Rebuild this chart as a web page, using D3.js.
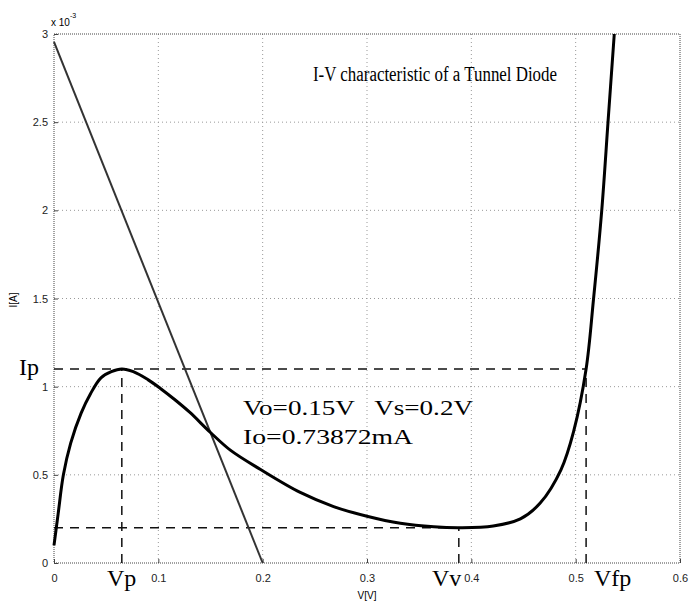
<!DOCTYPE html>
<html>
<head>
<meta charset="utf-8">
<script src="https://cdn.jsdelivr.net/npm/d3@7"></script>
<style>
  body { margin: 0; background: white; }
  svg { display: block; }
</style>
</head>
<body>
<div id="chart"></div>
<script>
// chart data (current in mA, i.e. x 10^-3 A)
const curveV = [0, 0.004, 0.009, 0.016, 0.026, 0.035, 0.045, 0.055, 0.065, 0.076, 0.09, 0.102, 0.115, 0.13, 0.15, 0.169, 0.198, 0.236, 0.268, 0.30, 0.332, 0.364, 0.39, 0.421, 0.447, 0.466, 0.486, 0.498, 0.51, 0.517, 0.525, 0.531, 0.537];
const curveI = [0.1, 0.28, 0.5, 0.68, 0.85, 0.96, 1.05, 1.085, 1.1, 1.085, 1.04, 0.99, 0.93, 0.855, 0.74, 0.64, 0.53, 0.40, 0.32, 0.265, 0.225, 0.205, 0.2, 0.21, 0.25, 0.34, 0.53, 0.745, 1.1, 1.49, 2.0, 2.5, 3.0];

const loadV = [0, 0.2];
const loadI = [2.955, 0];

const Vp = 0.065, Ip = 1.1, Vv = 0.388, Iv = 0.2, Vfp = 0.51;

const xTicks = [0, 0.1, 0.2, 0.3, 0.4, 0.5, 0.6];
const yTicks = [0, 0.5, 1, 1.5, 2, 2.5, 3];

const width = 690, height = 603;
const mLeft = 54, mRight = 680, mTop = 34, mBottom = 563;

const svg = d3.select("#chart").append("svg").attr("width", width).attr("height", height);

const x = d3.scaleLinear().domain([0, 0.6]).range([mLeft, mRight]);
const y = d3.scaleLinear().domain([0, 3]).range([mBottom, mTop]);

// grid
svg.append("g").selectAll("line").data(xTicks.slice(1, -1)).enter().append("line")
  .attr("x1", d => x(d)).attr("x2", d => x(d)).attr("y1", mTop).attr("y2", mBottom)
  .attr("stroke", "#999").attr("stroke-width", 1).attr("stroke-dasharray", "1,3");
svg.append("g").selectAll("line").data(yTicks.slice(1, -1)).enter().append("line")
  .attr("x1", mLeft).attr("x2", mRight).attr("y1", d => y(d)).attr("y2", d => y(d))
  .attr("stroke", "#999").attr("stroke-width", 1).attr("stroke-dasharray", "1,3");

// box
svg.append("rect").attr("x", mLeft).attr("y", mTop).attr("width", mRight - mLeft).attr("height", mBottom - mTop)
  .attr("fill", "none").attr("stroke", "#444").attr("stroke-width", 1).attr("stroke-dasharray", "1,1");

// axes (ticks inside, like matlab)
const xAxis = svg.append("g").attr("transform", `translate(0,${mBottom})`)
  .call(d3.axisBottom(x).tickValues(xTicks).tickSize(-4).tickPadding(11).tickFormat(d => d === 0 ? "0" : d3.format(".1f")(d)));
const yAxis = svg.append("g").attr("transform", `translate(${mLeft},0)`)
  .call(d3.axisLeft(y).tickValues(yTicks).tickSize(-4).tickPadding(6).tickFormat(d => d));
[xAxis, yAxis].forEach(a => {
  a.select(".domain").remove();
  a.selectAll("text").attr("font-family", "Liberation Sans, Arial, sans-serif").attr("font-size", 11).attr("fill", "#222");
  a.selectAll("line").attr("stroke", "#444");
});

// axis titles
svg.append("text").attr("x", x(0.3)).attr("y", 599).attr("text-anchor", "middle")
  .attr("font-family", "Liberation Sans, Arial, sans-serif").attr("font-size", 10).text("V[V]");
svg.append("text").attr("transform", "translate(17,300) rotate(-90)").attr("text-anchor", "middle")
  .attr("font-family", "Liberation Sans, Arial, sans-serif").attr("font-size", 10).text("I[A]");
const exp = svg.append("text").attr("x", 51).attr("y", 26)
  .attr("font-family", "Liberation Sans, Arial, sans-serif").attr("font-size", 10);
exp.append("tspan").text("x 10");
exp.append("tspan").attr("dy", -8).attr("font-size", 7).text("-3");

// dashed guide lines
const guides = [
  [0, Ip, Vfp, Ip],
  [Vp, 0, Vp, Ip],
  [0, Iv, Vv, Iv],
  [Vv, 0, Vv, Iv],
  [Vfp, 0, Vfp, Ip]
];
svg.append("g").selectAll("line").data(guides).enter().append("line")
  .attr("x1", d => x(d[0])).attr("y1", d => y(d[1])).attr("x2", d => x(d[2])).attr("y2", d => y(d[3]))
  .attr("stroke", "#111").attr("stroke-width", 1.5).attr("stroke-dasharray", "9,7");

// load line
svg.append("path").datum(d3.zip(loadV, loadI))
  .attr("d", d3.line().x(d => x(d[0])).y(d => y(d[1])))
  .attr("fill", "none").attr("stroke", "#333").attr("stroke-width", 2);

// I-V curve
svg.append("path").datum(d3.zip(curveV, curveI))
  .attr("d", d3.line().x(d => x(d[0])).y(d => y(d[1])).curve(d3.curveCatmullRom.alpha(0.5)))
  .attr("fill", "none").attr("stroke", "#000").attr("stroke-width", 3);

// labels
const serif = "Liberation Serif, Times New Roman, serif";
svg.append("text").attr("x", 313).attr("y", 81).attr("textLength", 244).attr("lengthAdjust", "spacingAndGlyphs")
  .attr("font-family", serif).attr("font-size", 20).text("I-V characteristic of a Tunnel Diode");
svg.append("text").attr("x", 243).attr("y", 415).attr("textLength", 230).attr("lengthAdjust", "spacingAndGlyphs")
  .attr("font-family", serif).attr("font-size", 21).attr("xml:space", "preserve").text("Vo=0.15V   Vs=0.2V");
svg.append("text").attr("x", 243).attr("y", 444).attr("textLength", 170).attr("lengthAdjust", "spacingAndGlyphs")
  .attr("font-family", serif).attr("font-size", 21).text("Io=0.73872mA");

const marks = [
  { t: "Ip", x: 19, y: 375 },
  { t: "Vp", x: 107, y: 586 },
  { t: "Vv", x: 432, y: 586 },
  { t: "Vfp", x: 594, y: 586 }
];
svg.append("g").selectAll("text").data(marks).enter().append("text")
  .attr("x", d => d.x).attr("y", d => d.y)
  .attr("font-family", serif).attr("font-size", 24).text(d => d.t);
</script>
</body>
</html>
